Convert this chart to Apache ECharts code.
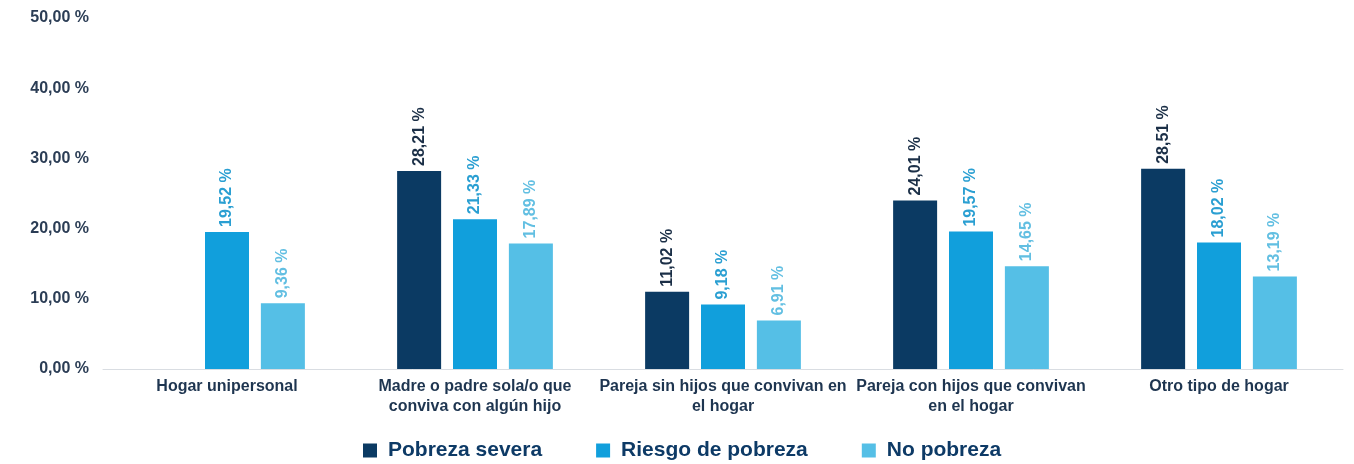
<!DOCTYPE html>
<html>
<head>
<meta charset="utf-8">
<script src="https://cdn.jsdelivr.net/npm/echarts@6/dist/echarts.min.js"></script>
<style>
  html, body { margin: 0; padding: 0; background: #fff; }
  #chart { width: 1354px; height: 464px; }
</style>
</head>
<body>
<div id="chart"></div>
<script>
  var categories = [
    'Hogar unipersonal',
    'Madre o padre sola/o que\nconviva con algún hijo',
    'Pareja sin hijos que convivan en\nel hogar',
    'Pareja con hijos que convivan\nen el hogar',
    'Otro tipo de hogar'
  ]
  var seriesNames = ['Pobreza severa', 'Riesgo de pobreza', 'No pobreza']
  var pobrezaSevera = [null, 28.21, 11.02, 24.01, 28.51]
  var riesgoPobreza = [19.52, 21.33, 9.18, 19.57, 18.02]
  var noPobreza = [9.36, 17.89, 6.91, 14.65, 13.19]

  var barColors = ['#0b3a63', '#119fdc', '#55bfe6']
  var labelColors = ['#1b2f47', '#2a9fd2', '#62bfe2']
  var values = [pobrezaSevera, riesgoPobreza, noPobreza]

  function fmt(v) {
    return v.toFixed(2).replace('.', ',') + ' %'
  }

  var series = []
  for (var i = 0; i < values.length; i++) {
    series.push({
      name: seriesNames[i],
      type: 'bar',
      data: values[i],
      barWidth: 44,
      barGap: '27%',
      itemStyle: { color: barColors[i] },
      label: {
        show: true,
        position: 'top',
        rotate: 90,
        align: 'left',
        verticalAlign: 'middle',
        distance: 5,
        color: labelColors[i],
        fontWeight: 'bold',
        fontSize: 16,
        fontFamily: 'Liberation Sans',
        formatter: function (p) { return fmt(p.value) }
      }
    })
  }

  var chart = echarts.init(document.getElementById('chart'))
  chart.setOption({
    backgroundColor: '#fff',
    animation: false,
    textStyle: { fontFamily: 'Liberation Sans' },
    grid: { left: 103, right: 11, top: 18, bottom: 95, containLabel: false },
    legend: {
      data: seriesNames,
      top: 435,
      left: 358,
      icon: 'rect',
      itemWidth: 14,
      itemHeight: 14,
      itemGap: 54,
      textStyle: { color: '#0d3a66', fontSize: 21, fontWeight: 'bold', fontFamily: 'Liberation Sans', padding: [0, 0, 0, 6] }
    },
    xAxis: {
      type: 'category',
      data: categories,
      axisTick: { show: false },
      axisLine: { lineStyle: { color: '#d9dde2', width: 1 } },
      axisLabel: {
        interval: 0,
        margin: 8,
        color: '#1e3550',
        fontWeight: 'bold',
        fontSize: 16,
        lineHeight: 20
      }
    },
    yAxis: {
      type: 'value',
      min: 0,
      max: 50,
      interval: 10,
      splitLine: { show: false },
      axisLine: { show: false },
      axisTick: { show: false },
      axisLabel: {
        margin: 14,
        color: '#2b3d55',
        fontWeight: 'bold',
        fontSize: 16,
        formatter: function (v) { return fmt(v) }
      }
    },
    series: series
  })
</script>
</body>
</html>
